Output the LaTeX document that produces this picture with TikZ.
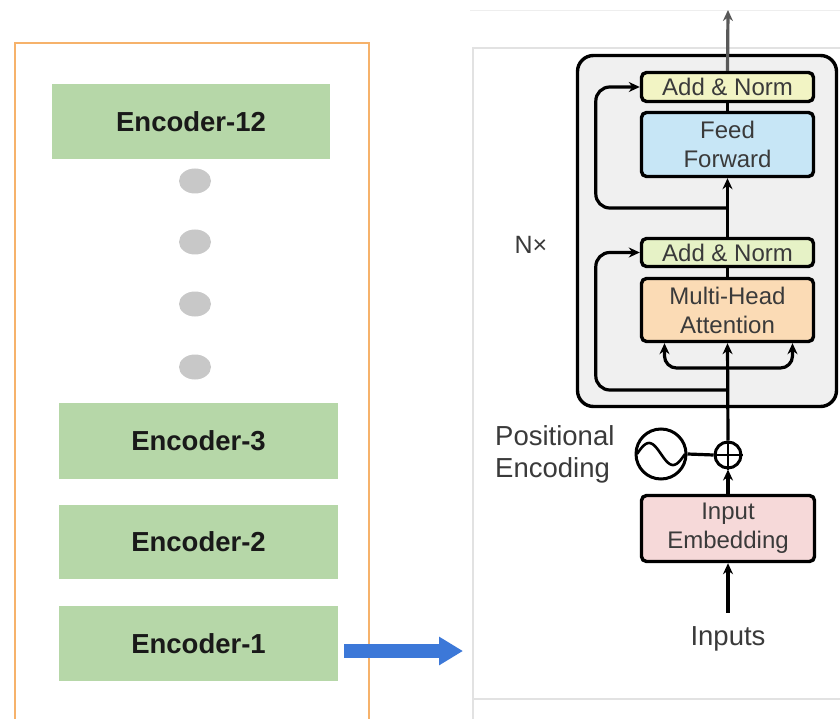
\documentclass[tikz,border=0pt]{standalone}
\usepackage{fontspec}
\setmainfont{Liberation Sans}
\usetikzlibrary{arrows.meta,shapes.geometric}
\definecolor{encgreen}{HTML}{B6D7A8}
\definecolor{frameorange}{HTML}{F6B26B}
\definecolor{dotgray}{HTML}{C8C8C8}
\definecolor{arrowblue}{HTML}{3C78D8}
\definecolor{nxfill}{HTML}{F0F0F0}
\definecolor{anyellow}{HTML}{F2F4C4}
\definecolor{angreen}{HTML}{E6F2C6}
\definecolor{ffblue}{HTML}{C7E6F6}
\definecolor{mhaorange}{HTML}{FBDBB5}
\definecolor{iepink}{HTML}{F6D9D9}
\definecolor{txtgray}{HTML}{3A3A3A}
\definecolor{panelgray}{HTML}{E2E2E2}
\tikzset{
  encbox/.style={fill=encgreen, draw=none, minimum width=279pt, minimum height=75pt, inner sep=0pt,
    font=\fontsize{27.5}{30}\selectfont\bfseries, text=black!90},
  dotnode/.style={ellipse, fill=dotgray, draw=none, minimum width=32pt, minimum height=25pt, inner sep=0pt},
  blk/.style={draw=black, line width=3.4pt, rounded corners=5pt, minimum width=172pt, inner sep=0pt,
    align=center, font=\fontsize{24}{29}\selectfont, text=txtgray},
  conn/.style={draw=black, line width=3.2pt},
  arr/.style={conn, -{Stealth[length=11pt,width=10pt]}},
  lbl/.style={font=\fontsize{27.5}{32}\selectfont, text=txtgray, inner sep=0pt}
}
\begin{document}
\begin{tikzpicture}[x=1pt,y=-1pt]
\useasboundingbox (0,0) rectangle (840,719);
\fill[white] (0,0) rectangle (840,719);

% left frame
\draw[frameorange, line width=1.8pt] (15,725) -- (15,43) -- (369,43) -- (369,725);

% encoders
\node[encbox, minimum width=278pt] (enc12) at (191,121.5) {Encoder-12};
\node[dotnode] (d1) at (195,181) {};
\node[dotnode] (d2) at (195,242) {};
\node[dotnode] (d3) at (195,304) {};
\node[dotnode] (d4) at (195,367) {};
\node[encbox, minimum height=76pt] (enc3) at (198.5,441) {Encoder-3};
\node[encbox, minimum height=74pt] (enc2) at (198.5,542) {Encoder-2};
\node[encbox] (enc1) at (198.5,643.5) {Encoder-1};

% right panel
\draw[panelgray!60, line width=0.8pt] (470,10) -- (840,10);
\draw[panelgray, line width=1.2pt] (473,730) -- (473,48) -- (850,48);
\draw[panelgray, line width=1.2pt] (473,699) -- (850,699);

% blue arrow
\coordinate (bs) at (344,651);
\coordinate (be) at (463,651);
\draw[arrowblue, line width=14pt, -{Triangle[length=24pt,width=27pt]}] (bs) -- (be);

% Nx box
\node[draw=black, line width=3.4pt, fill=nxfill, rounded corners=16pt, minimum width=259pt, minimum height=351pt, inner sep=0pt] (nxbox) at (707,231) {};
\node[font=\fontsize{25}{28}\selectfont, text=txtgray, inner sep=0pt] (nx) at (531,245) {N×};

% blocks
\node[blk, fill=anyellow, minimum height=29pt] (an1) at (727.5,87) {Add \& Norm};
\node[blk, fill=ffblue, minimum height=64pt] (ff) at (727.5,144.5) {Feed\\Forward};
\node[blk, fill=angreen, minimum height=28pt] (an2) at (727.5,252.5) {Add \& Norm};
\node[blk, fill=mhaorange, minimum height=63pt] (mha) at (727.5,310) {Multi-Head\\Attention};
\node[blk, fill=iepink, minimum width=173pt, minimum height=66pt] (ie) at (728,528.5) {Input\\Embedding};

% plus and positional encoding
\node[circle, draw=black, line width=3pt, minimum size=26pt, inner sep=0pt] (plus) at (728,455) {};
\draw[line width=2.6pt] (plus.north) -- (plus.south) (plus.west) -- (plus.east);
\node[circle, draw=black, line width=3pt, minimum size=50pt, inner sep=0pt] (sine) at (661,454) {};
\draw[line width=2.6pt, smooth] plot[domain=-24:24, samples=41] ({661+\x},{454-11*sin(180*(\x+24)/24)});
\draw[conn] (sine.east) -- (plus.west);
\node[lbl, align=left, anchor=west] (pe) at (495,454.5) {Positional\\Encoding};

% inputs
\node[lbl, anchor=base] (inputs) at (728,645) {Inputs};
\draw[arr, shorten <=13pt] (inputs.north) -- (ie.south);
\draw[arr] (ie.north) -- (plus.south);
\draw[arr] (plus.north) -- (mha.south);

% attention side inputs
\coordinate (br) at (728,368);
\draw[arr, rounded corners=12pt] (br) -| ([xshift=-63pt]mha.south);
\draw[arr, rounded corners=12pt] (br) -| ([xshift=65pt]mha.south);

% residual 2
\coordinate (r2) at (728,390);
\draw[arr, rounded corners=14pt] (r2) -| ([xshift=-44pt]an2.west) -- (an2.west);
\draw[conn] (mha.north) -- (an2.south);
\draw[arr] (an2.north) -- (ff.south);

% residual 1
\coordinate (r1) at (728,208);
\draw[arr, rounded corners=14pt] (r1) -| ([xshift=-44pt]an1.west) -- (an1.west);
\draw[conn] (ff.north) -- (an1.south);

% output
\coordinate (out) at (728,10);
\draw[arr, draw=black!65] (an1.north) -- (out);
\end{tikzpicture}
\end{document}
